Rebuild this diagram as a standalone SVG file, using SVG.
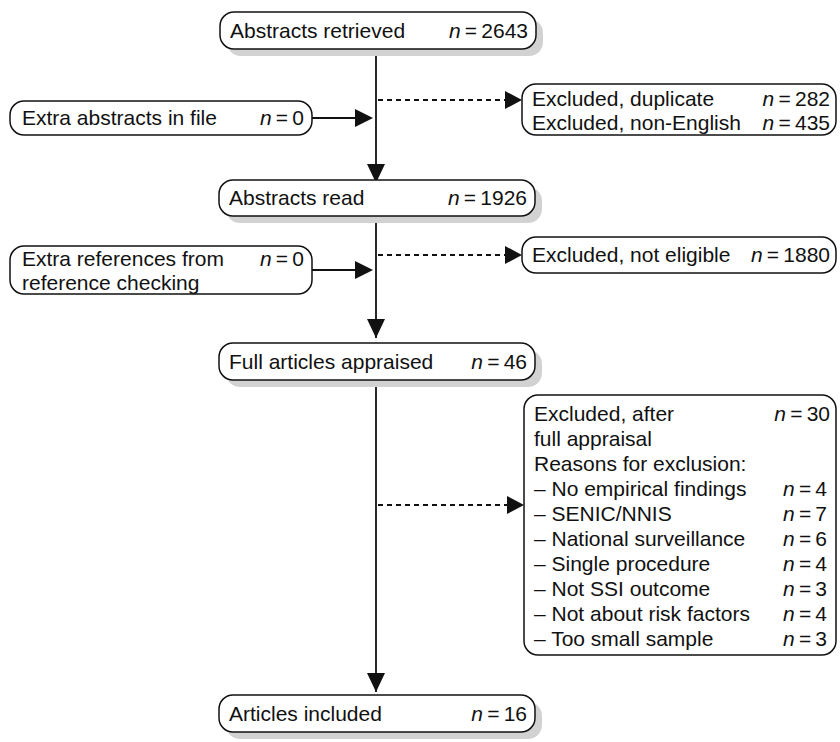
<svg xmlns="http://www.w3.org/2000/svg" width="840" height="742" viewBox="0 0 840 742">
<defs>
<style>
text{font-family:"Liberation Sans",Arial,sans-serif;font-size:21px;fill:#111}
.n{font-style:italic}
.box{fill:#fff;stroke:#111;stroke-width:1.5}
.sh{fill:#d2d2d2;stroke:none}
.line{stroke:#111;stroke-width:1.8;fill:none}
.dash{stroke:#111;stroke-width:1.8;fill:none;stroke-dasharray:5 4}
.ah{fill:#111}
</style>
</defs>
<rect width="840" height="742" fill="#fff"/>
<g id="connectors">
<line class="line" x1="376" y1="49" x2="376" y2="183"/>
<path class="ah" d="M367,164 L385,164 L376,183 Z"/>
<line class="line" x1="312" y1="118" x2="358" y2="118"/>
<path class="ah" d="M355,109 L373,118 L355,127 Z"/>
<line class="dash" x1="378" y1="100" x2="505" y2="100"/>
<path class="ah" d="M505,91 L522,100 L505,109 Z"/>
<line class="line" x1="376" y1="216" x2="376" y2="338"/>
<path class="ah" d="M367,319 L385,319 L376,338 Z"/>
<line class="line" x1="312" y1="270" x2="358" y2="270"/>
<path class="ah" d="M355,261 L373,270 L355,279 Z"/>
<line class="dash" x1="378" y1="255" x2="505" y2="255"/>
<path class="ah" d="M505,246 L522,255 L505,264 Z"/>
<line class="line" x1="376" y1="380" x2="376" y2="692"/>
<path class="ah" d="M367,673 L385,673 L376,692 Z"/>
<line class="dash" x1="378" y1="505" x2="507" y2="505"/>
<path class="ah" d="M507,496 L524,505 L507,514 Z"/>
</g>
<g id="n1">
<rect class="sh" x="227" y="19" width="316" height="37" rx="14"/>
<rect class="box" x="220" y="12" width="316" height="37" rx="14"/>
<text x="230" y="38">Abstracts retrieved</text>
<text x="528" y="38" text-anchor="end"><tspan class="n">n</tspan>&#8201;=&#8201;2643</text>
</g>
<g id="n2">
<rect class="box" x="10" y="101" width="302" height="34" rx="14"/>
<text x="22" y="125">Extra abstracts in file</text>
<text x="304" y="125" text-anchor="end"><tspan class="n">n</tspan>&#8201;=&#8201;0</text>
</g>
<g id="n3">
<rect class="box" x="522" y="84" width="314" height="51" rx="14"/>
<text x="532" y="106">Excluded, duplicate</text>
<text x="830" y="106" text-anchor="end"><tspan class="n">n</tspan>&#8201;=&#8201;282</text>
<text x="532" y="130">Excluded, non-English</text>
<text x="830" y="130" text-anchor="end"><tspan class="n">n</tspan>&#8201;=&#8201;435</text>
</g>
<g id="n4">
<rect class="sh" x="226" y="187" width="316" height="36" rx="14"/>
<rect class="box" x="219" y="180" width="316" height="36" rx="14"/>
<text x="229" y="205">Abstracts read</text>
<text x="527" y="205" text-anchor="end"><tspan class="n">n</tspan>&#8201;=&#8201;1926</text>
</g>
<g id="n5">
<rect class="box" x="10" y="246" width="302" height="48" rx="14"/>
<text x="22" y="266">Extra references from</text>
<text x="304" y="266" text-anchor="end"><tspan class="n">n</tspan>&#8201;=&#8201;0</text>
<text x="22" y="290">reference checking</text>
</g>
<g id="n6">
<rect class="box" x="522" y="237" width="314" height="36" rx="14"/>
<text x="532" y="262">Excluded, not eligible</text>
<text x="830" y="262" text-anchor="end"><tspan class="n">n</tspan>&#8201;=&#8201;1880</text>
</g>
<g id="n7">
<rect class="sh" x="226" y="350" width="316" height="37" rx="14"/>
<rect class="box" x="219" y="343" width="316" height="37" rx="14"/>
<text x="229" y="369">Full articles appraised</text>
<text x="527" y="369" text-anchor="end"><tspan class="n">n</tspan>&#8201;=&#8201;46</text>
</g>
<g id="n8">
<rect class="box" x="524" y="395" width="312" height="260" rx="14"/>
<text x="534" y="421">Excluded, after</text>
<text x="830" y="421" text-anchor="end"><tspan class="n">n</tspan>&#8201;=&#8201;30</text>
<text x="534" y="446">full appraisal</text>
<text x="534" y="471">Reasons for exclusion:</text>
<text x="534" y="496">– No empirical findings</text>
<text x="783" y="496"><tspan class="n">n</tspan>&#8201;=&#8201;4</text>
<text x="534" y="521">– SENIC/NNIS</text>
<text x="783" y="521"><tspan class="n">n</tspan>&#8201;=&#8201;7</text>
<text x="534" y="546">– National surveillance</text>
<text x="783" y="546"><tspan class="n">n</tspan>&#8201;=&#8201;6</text>
<text x="534" y="571">– Single procedure</text>
<text x="783" y="571"><tspan class="n">n</tspan>&#8201;=&#8201;4</text>
<text x="534" y="596">– Not SSI outcome</text>
<text x="783" y="596"><tspan class="n">n</tspan>&#8201;=&#8201;3</text>
<text x="534" y="621">– Not about risk factors</text>
<text x="783" y="621"><tspan class="n">n</tspan>&#8201;=&#8201;4</text>
<text x="534" y="646">– Too small sample</text>
<text x="783" y="646"><tspan class="n">n</tspan>&#8201;=&#8201;3</text>
</g>
<g id="n9">
<rect class="sh" x="226" y="702" width="316" height="37" rx="14"/>
<rect class="box" x="219" y="695" width="316" height="37" rx="14"/>
<text x="229" y="721">Articles included</text>
<text x="527" y="721" text-anchor="end"><tspan class="n">n</tspan>&#8201;=&#8201;16</text>
</g>
</svg>
